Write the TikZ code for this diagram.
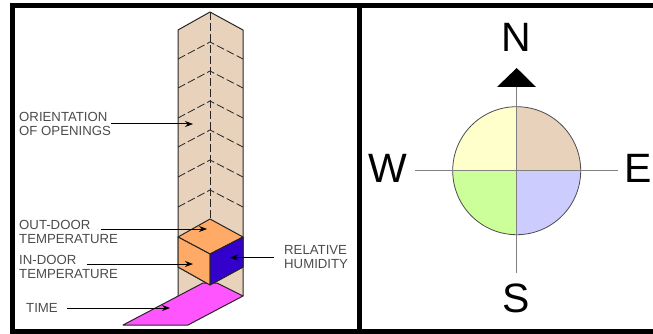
\documentclass[tikz,border=0pt]{standalone}
\usepackage{fontspec}
\setmainfont{Liberation Sans}
\usetikzlibrary{arrows.meta,calc}
\definecolor{wallcol}{HTML}{E8D2BC}
\definecolor{cubecol}{HTML}{FFAA66}
\definecolor{humidcol}{HTML}{3300CC}
\definecolor{timecol}{HTML}{FF55FF}
\definecolor{necol}{HTML}{E8D2BC}
\definecolor{secol}{HTML}{CCCCFF}
\definecolor{swcol}{HTML}{CCFF99}
\definecolor{nwcol}{HTML}{FFFFCC}
\tikzset{
  frameline/.style={line width=5pt,black},
  outline/.style={draw=black!85,line width=1pt,line join=round},
  dashline/.style={black!85,line width=0.8pt,dash pattern=on 8pt off 3pt},
  axisline/.style={black!50,line width=1pt},
  lbl/.style={font=\fontsize{13.2}{14}\selectfont,text=black!70,inner sep=0pt,align=left},
  pointer/.style={-{Stealth[length=8pt,width=6pt]},line width=1pt,black},
  bigletter/.style={font=\fontsize{41}{41}\selectfont,inner sep=0pt},
}
\newcommand{\chevron}[1]{%
  % apex height of one dashed roof line
  \draw[dashline] (178,#1+17) -- (210,#1) -- (243,#1+17);
}

\begin{document}
\begin{tikzpicture}[x=1pt,y=-1pt]
  \useasboundingbox (0,0) rectangle (653,334);
  % panels
  \draw[frameline] (358,6) -- (12.5,6) -- (12.5,331) -- (358,331);
  \draw[frameline] (653,5.5) -- (359,5.5) -- (359,331.5) -- (653,331.5);
  % column
  \draw[outline,fill=wallcol] (178,296) -- (178,30) -- (210,12) -- (243,30) -- (243,296);
  \foreach \y in {42,71,101,130,160,190}{\chevron{\y}}
  \draw[dashline] (210,12) -- (210,219);
  \draw[outline] (178,267) -- (210,285) -- (243,267);
  % time
  \draw[outline,fill=timecol] (123,325) -- (203,283) -- (217,283) -- (243,296) -- (188,325) -- cycle;
  % cube
  \draw[outline,fill=cubecol] (178,237) -- (210,219) -- (243,237) -- (210,254) -- cycle;
  \draw[outline,fill=cubecol] (178,237) -- (210,254) -- (210,285) -- (178,267) -- cycle;
  \draw[outline,fill=humidcol] (210,254) -- (243,237) -- (243,267) -- (210,285) -- cycle;
  % labels
  \node[lbl,anchor=west] (orient) at (19,124) {ORIENTATION\\OF OPENINGS};
  \node[lbl,anchor=west] (outdoor) at (19,225) {OUT-DOOR};
  \node[lbl,anchor=west] at (19,239) {TEMPERATURE};
  \node[lbl,anchor=west] (indoor) at (19,260) {IN-DOOR};
  \node[lbl,anchor=west] at (19,274) {TEMPERATURE};
  \node[lbl,anchor=west] (timelbl) at (26,308) {TIME};
  \node[lbl,anchor=west] (humid) at (284,257.5) {RELATIVE\\HUMIDITY};
  \coordinate (orientp) at (193,124);
  \coordinate (outdoorp) at (207,229);
  \coordinate (indoorp) at (193,264);
  \coordinate (timep) at (170,308);
  \coordinate (humidp) at (230,257.5);
  \draw[pointer] (orient.east) -- (orientp);
  \draw[pointer,shorten <=10pt] (outdoor.east |- outdoorp) -- (outdoorp);
  \draw[pointer,shorten <=10pt] (indoor.east |- indoorp) -- (indoorp);
  \draw[pointer,shorten <=9pt] (timelbl.east) -- (timep);
  \draw[pointer,shorten <=10pt] (humid.west) -- (humidp);
  % compass
  \coordinate (c) at (516.7,170.7);
  \foreach \col/\a in {necol/-90,secol/0,swcol/90,nwcol/180}{
    \fill[\col] (c) -- +(\a:64) arc[start angle=\a,delta angle=90,radius=64] -- cycle;
  }
  \draw[black!70,line width=0.8pt] (c) circle[radius=64];
  \coordinate (wend) at (415,170.7);
  \coordinate (eend) at (618,170.7);
  \coordinate (nend) at (516.7,87);
  \coordinate (send) at (516.7,273);
  \draw[axisline] (wend) -- (eend);
  \draw[axisline] (nend) -- (send);
  \fill[black] (516.7,68) -- (536,87) -- (497,87) -- cycle;
  \node[bigletter] (north) at (516,37) {N};
  \node[bigletter] (west) at (388,168) {W};
  \node[bigletter] (east) at (638,168) {E};
  \node[bigletter] (south) at (516,298) {S};
\end{tikzpicture}
\end{document}
